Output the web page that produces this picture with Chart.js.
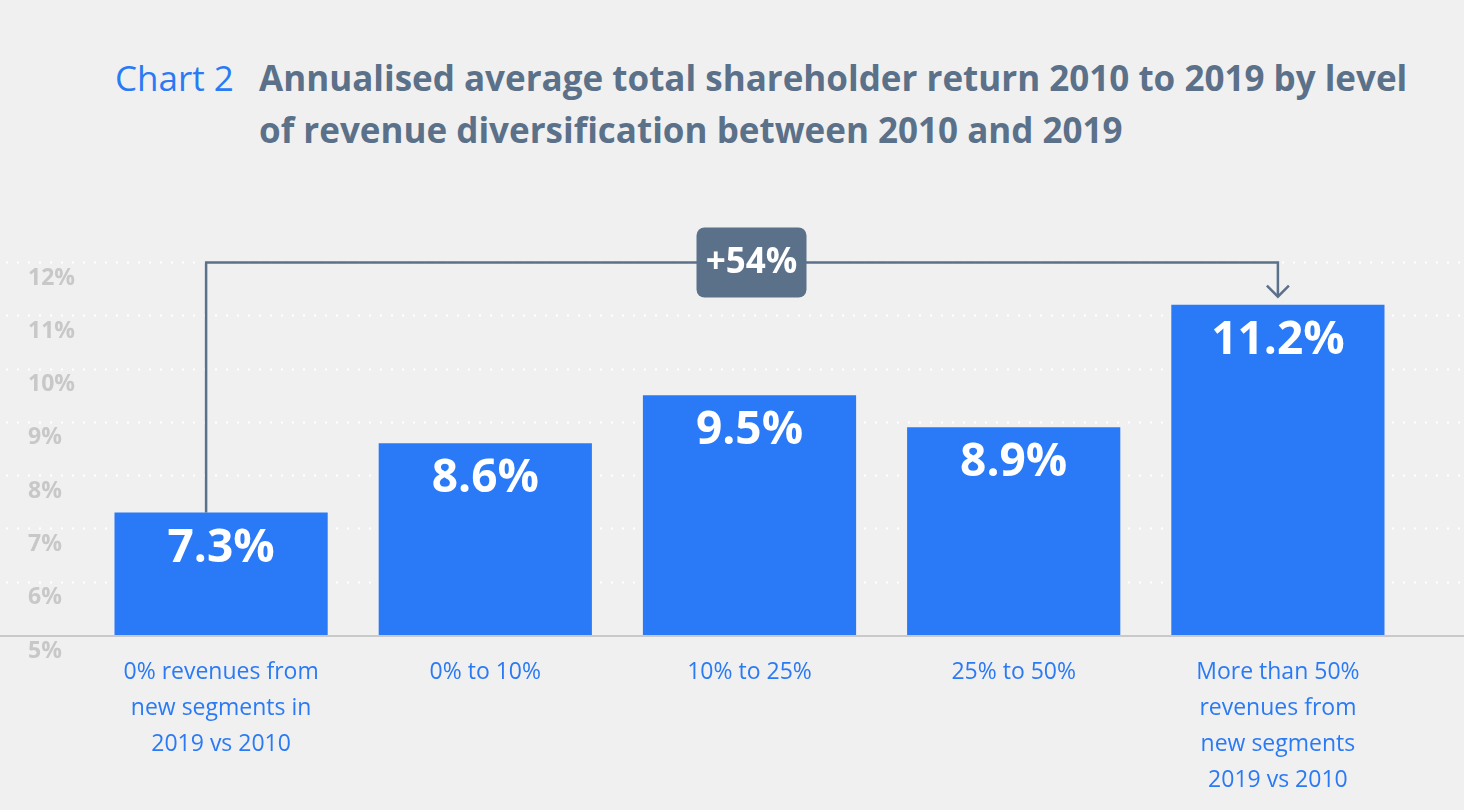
<!DOCTYPE html>
<html>
<head>
<meta charset="utf-8">
<script src="https://cdn.jsdelivr.net/npm/chart.js@4"></script>
<style>
  html, body { margin: 0; padding: 0; background: #f0f0f0; }
  #wrap { position: relative; width: 1464px; height: 810px; overflow: hidden; }
  #chartTag { position: absolute; left: 115px; top: 52px; font: 400 35px/52px 'Open Sans'; color: #2a7af5; }
  #chartTitle { position: absolute; left: 259px; top: 52px; width: 1200px; font: 700 35px/52px 'Open Sans'; color: #5b7089; white-space: nowrap; }
  canvas { position: absolute; left: 0; top: 0; }
</style>
</head>
<body>
<div id="wrap">
  <div id="chartTag">Chart 2</div>
  <div id="chartTitle">Annualised average total shareholder return 2010 to 2019 by level<br>of revenue diversification between 2010 and 2019</div>
  <canvas id="myChart" width="1464" height="810"></canvas>
</div>
<script>
const categories = [
    ["0% revenues from", "new segments in", "2019 vs 2010"],
    "0% to 10%",
    "10% to 25%",
    "25% to 50%",
    ["More than 50%", "revenues from", "new segments", "2019 vs 2010"]
];
const returns = [7.3, 8.6, 9.5, 8.9, 11.2];
const yTicks = [5, 6, 7, 8, 9, 10, 11, 12];
const uplift = "+54%";

const barColor = "#2a7af7";
const slate = "#5b7089";

// dotted grid, baseline, value labels and the +54% bracket
const decorations = {
    id: 'decorations',
    beforeDatasetsDraw(chart) {
        const ctx = chart.ctx;
        const y = chart.scales.y;
        ctx.save();
        ctx.strokeStyle = "#ffffff";
        ctx.lineWidth = 2;
        ctx.setLineDash([2, 9]);
        yTicks.forEach(function (t) {
            if (t === yTicks[0]) return;
            const py = Math.round(y.getPixelForValue(t)) + 0.5;
            ctx.beginPath();
            ctx.moveTo(6, py);
            ctx.lineTo(chart.width, py);
            ctx.stroke();
        });
        ctx.setLineDash([]);
        ctx.strokeStyle = "#c9c9c9";
        ctx.lineWidth = 2;
        const base = y.getPixelForValue(yTicks[0]) + 1;
        ctx.beginPath();
        ctx.moveTo(0, base);
        ctx.lineTo(chart.width, base);
        ctx.stroke();
        ctx.restore();
    },
    afterDatasetsDraw(chart) {
        const ctx = chart.ctx;
        const bars = chart.getDatasetMeta(0).data;
        const y = chart.scales.y;
        ctx.save();
        ctx.fillStyle = "#ffffff";
        ctx.font = "700 46px 'Open Sans'";
        ctx.textAlign = "center";
        ctx.textBaseline = "middle";
        bars.forEach(function (bar, i) {
            ctx.fillText(returns[i].toFixed(1) + "%", bar.x, bar.y + 36);
        });

        // bracket from first to last bar
        const first = bars[0], last = bars[bars.length - 1];
        const lx = first.x - 15;
        const top = Math.round(y.getPixelForValue(12)) + 0.5;
        ctx.strokeStyle = slate;
        ctx.lineWidth = 2.5;
        ctx.beginPath();
        ctx.moveTo(lx, first.y);
        ctx.lineTo(lx, top);
        ctx.lineTo(last.x, top);
        ctx.lineTo(last.x, last.y - 8);
        ctx.stroke();
        ctx.beginPath();
        ctx.moveTo(last.x - 11, last.y - 19);
        ctx.lineTo(last.x, last.y - 8);
        ctx.lineTo(last.x + 11, last.y - 19);
        ctx.stroke();

        // label box
        const bx = bars[2].x + 2;
        const w = 110, h = 70;
        ctx.fillStyle = slate;
        ctx.beginPath();
        ctx.roundRect(bx - w / 2, top - h / 2, w, h, 8);
        ctx.fill();
        ctx.fillStyle = "#ffffff";
        ctx.font = "700 35px 'Open Sans'";
        ctx.fillText(uplift, bx, top + 1);
        ctx.restore();
    }
};

const data = {
    labels: categories,
    datasets: [{
        data: returns,
        backgroundColor: barColor,
        borderWidth: 0,
        barPercentage: 0.807,
        categoryPercentage: 1.0
    }]
};

const config = {
    type: 'bar',
    data,
    options: {
        responsive: false,
        animation: false,
        layout: {
            padding: { top: 262, left: 28, right: 54, bottom: 0 }
        },
        plugins: {
            legend: { display: false },
            tooltip: { enabled: false }
        },
        scales: {
            x: {
                grid: { display: false },
                border: { display: false },
                ticks: {
                    color: "#2a7af5",
                    font: { family: 'Open Sans', size: 23, lineHeight: 1.565 },
                    padding: 11,
                    maxRotation: 0,
                    autoSkip: false
                },
                afterFit: function (scale) { scale.height = 175; }
            },
            y: {
                min: 5,
                max: 12,
                grid: { display: false },
                border: { display: false },
                ticks: {
                    stepSize: 1,
                    crossAlign: 'far',
                    labelOffset: 16,
                    color: "#c8c8c8",
                    font: { family: 'Open Sans', size: 23, weight: 'bold' },
                    callback: function (v) { return v + "%"; }
                },
                afterFit: function (scale) { scale.width = 61; }
            }
        }
    },
    plugins: [decorations]
};

myChart = new Chart(document.getElementById('myChart'), config);
</script>
</body>
</html>
